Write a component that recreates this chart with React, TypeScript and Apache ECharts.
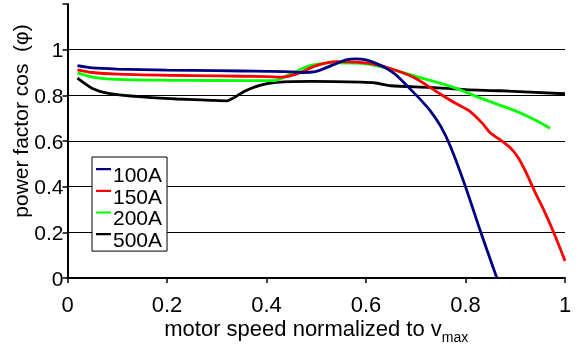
import React, { useEffect, useRef } from "react";
import * as echarts from "echarts";

const seriesNames = ["100A", "150A", "200A", "500A"];
const seriesColors = ["#000080", "#ff0000", "#00ff00", "#000000"];

const speed100 = [0.02, 0.05, 0.1, 0.2, 0.3, 0.4, 0.45, 0.47, 0.5, 0.53, 0.56, 0.58, 0.6, 0.62, 0.64, 0.66, 0.69, 0.71, 0.73, 0.75, 0.77, 0.8, 0.83, 0.863];
const pf100 = [0.93, 0.92, 0.915, 0.91, 0.908, 0.905, 0.903, 0.9, 0.905, 0.93, 0.955, 0.96, 0.955, 0.94, 0.92, 0.89, 0.825, 0.78, 0.73, 0.665, 0.575, 0.4, 0.205, 0.0];

const speed150 = [0.02, 0.05, 0.1, 0.2, 0.3, 0.4, 0.43, 0.46, 0.5, 0.54, 0.58, 0.62, 0.66, 0.7, 0.75, 0.78, 0.81, 0.835, 0.85, 0.87, 0.89, 0.905, 0.92, 0.94, 0.96, 0.98, 1.0];
const pf150 = [0.912, 0.9, 0.893, 0.888, 0.885, 0.882, 0.88, 0.893, 0.93, 0.948, 0.945, 0.935, 0.91, 0.874, 0.805, 0.765, 0.728, 0.675, 0.635, 0.605, 0.57, 0.53, 0.47, 0.375, 0.285, 0.185, 0.075];

const speed200 = [0.02, 0.05, 0.1, 0.2, 0.3, 0.4, 0.42, 0.45, 0.48, 0.5, 0.53, 0.59, 0.64, 0.7, 0.77, 0.84, 0.9, 0.94, 0.97];
const pf200 = [0.898, 0.88, 0.87, 0.866, 0.865, 0.864, 0.866, 0.895, 0.925, 0.936, 0.942, 0.94, 0.92, 0.883, 0.839, 0.78, 0.732, 0.692, 0.656];

const speed500 = [0.02, 0.05, 0.08, 0.15, 0.22, 0.29, 0.32, 0.335, 0.355, 0.39, 0.42, 0.49, 0.59, 0.62, 0.65, 0.73, 0.8, 0.87, 1.0];
const pf500 = [0.875, 0.83, 0.81, 0.793, 0.784, 0.778, 0.776, 0.79, 0.817, 0.846, 0.857, 0.861, 0.858, 0.854, 0.842, 0.835, 0.825, 0.82, 0.807];

const xTicks = [0, 0.2, 0.4, 0.6, 0.8, 1];
const yMax = 1.2;

const FONT = "'Liberation Sans', Arial, sans-serif";

function pairs(xs: number[], ys: number[]) {
  return xs.map((x, i) => [x, ys[i]]);
}

export default function App() {
  const ref = useRef<HTMLDivElement>(null);
  useEffect(() => {
    if (!ref.current) return;
    const chart = echarts.init(ref.current, undefined, { renderer: "svg" });
    const allData = [
      pairs(speed100, pf100),
      pairs(speed150, pf150),
      pairs(speed200, pf200),
      pairs(speed500, pf500),
    ];
    const legendIcon = "path://M0,4h15v2.2h-15z M0,0h0.01v0.01h-0.01z M14.99,20.99h0.01v0.01h-0.01z";
    chart.setOption({
      animation: false,
      textStyle: { fontFamily: FONT, color: "#000" },
      grid: { left: 67.5, right: 12, top: 4, bottom: 69, containLabel: false, outerBoundsMode: "none" },
      legend: {
        orient: "vertical",
        left: 92,
        top: 157,
        padding: [7, 5, 1, 4],
        itemGap: 0.7,
        itemWidth: 15,
        itemHeight: 21,
        backgroundColor: "#fff",
        borderColor: "#000",
        borderWidth: 1,
        borderRadius: 0,
        textStyle: { fontFamily: FONT, fontSize: 21, color: "#000", padding: [0, 0, 0, -3] },
        data: seriesNames.map((n) => ({ name: n, icon: legendIcon })),
      },
      xAxis: {
        type: "value",
        min: 0,
        max: 1,
        interval: 0.2,
        name: "{a|motor speed normalized to v}{b|max}",
        nameLocation: "middle",
        nameGap: 39,
        nameMoveOverlap: false,
        nameTextStyle: {
          rich: {
            a: { fontFamily: FONT, fontSize: 22, color: "#000" },
            b: { fontFamily: FONT, fontSize: 14, color: "#000", verticalAlign: "bottom", padding: [0, 0, -5, 0] },
          },
        },
        axisLine: { show: true, onZero: false, lineStyle: { color: "#000", width: 2 } },
        axisTick: { show: true, inside: false, length: 5, lineStyle: { color: "#000", width: 1.5 } },
        axisLabel: {
          fontFamily: FONT,
          fontSize: 22,
          color: "#000",
          margin: 15,
          formatter: (v: number) => {
            const t = xTicks.find((k) => Math.abs(k - v) < 1e-6);
            return t === undefined ? "" : String(t);
          },
        },
        splitLine: { show: false },
      },
      yAxis: {
        type: "value",
        min: 0,
        max: yMax,
        interval: 0.2,
        name: "power factor cos  (φ)",
        nameLocation: "middle",
        nameGap: 37,
        nameMoveOverlap: false,
        nameTextStyle: { fontFamily: FONT, fontSize: 21, color: "#000", padding: [0, 0, 0, 40] },
        axisLine: { show: true, onZero: false, lineStyle: { color: "#000", width: 2 } },
        axisTick: { show: true, inside: false, length: 5, lineStyle: { color: "#000", width: 1.5 } },
        axisLabel: {
          fontFamily: FONT,
          fontSize: 21,
          color: "#000",
          margin: 4,
          padding: [9, 0, 0, 0],
          formatter: (v: number) => (v > 1.1 ? "" : String(+v.toFixed(1))),
        },
        splitLine: { show: true, showMinLine: false, showMaxLine: false, lineStyle: { color: "#000", width: 1.2 } },
      },
      series: seriesNames.map((n, i) => ({
        name: n,
        type: "line",
        data: allData[i],
        showSymbol: false,
        symbol: "none",
        smooth: 0.25,
        color: seriesColors[i],
        lineStyle: { color: seriesColors[i], width: 2.8 },
        z: 10 - i,
      })),
    });
    return () => chart.dispose();
  }, []);
  return <div ref={ref} style={{ position: "fixed", left: 0, top: 0, width: 577, height: 347 }} />;
}
